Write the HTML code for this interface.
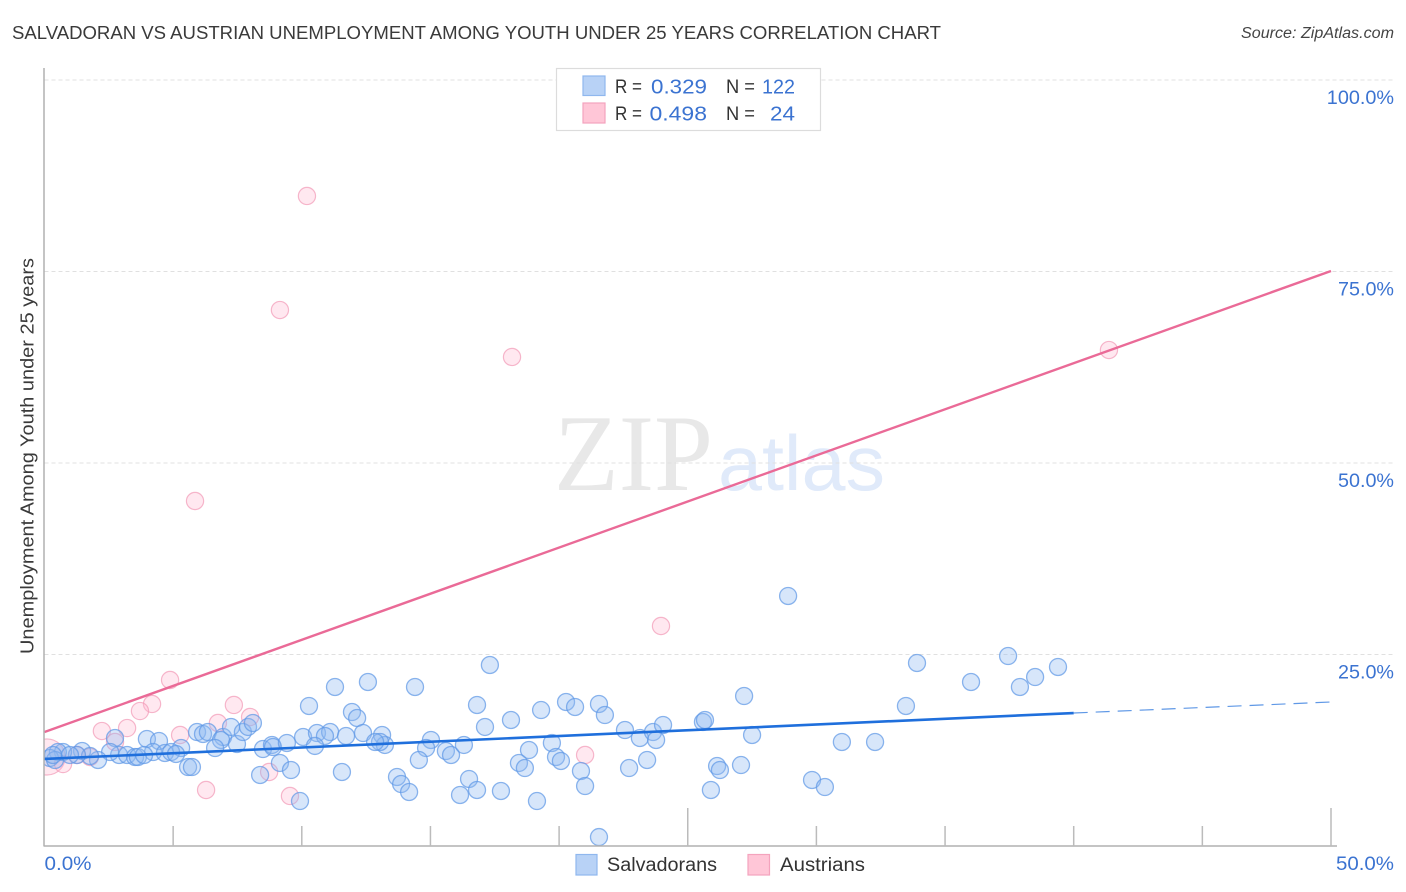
<!DOCTYPE html>
<html lang="en">
<head>
<meta charset="utf-8">
<title>Salvadoran vs Austrian Unemployment Correlation Chart</title>
<style>
html,body{margin:0;padding:0;background:#fff;width:1406px;height:892px;overflow:hidden}
svg{display:block;font-family:"Liberation Sans",sans-serif}
</style>
</head>
<body>
<svg id="chart" xmlns="http://www.w3.org/2000/svg" width="1406" height="892" viewBox="0 0 1406 892">
  <defs>
    <clipPath id="plot-clip"><rect x="44.5" y="68" width="1300" height="778"></rect></clipPath>
  </defs>
  <rect x="0" y="0" width="1406" height="892" fill="#fff"></rect>
  <text x="12" y="39" font-size="18.5" fill="#3a3a3a" textLength="929" lengthAdjust="spacingAndGlyphs">SALVADORAN VS AUSTRIAN UNEMPLOYMENT AMONG YOUTH UNDER 25 YEARS CORRELATION CHART</text>
  <text x="1394" y="38" font-size="15.5" font-style="italic" fill="#444" text-anchor="end" textLength="153" lengthAdjust="spacingAndGlyphs">Source: ZipAtlas.com</text>
  <g>
    <text x="554" y="490" font-family="'Liberation Serif',serif" font-size="109" fill="#e8e8e8" textLength="159" lengthAdjust="spacingAndGlyphs">ZIP</text>
    <text x="718" y="490" font-size="78" fill="#e0eafa" textLength="167" lengthAdjust="spacingAndGlyphs">atlas</text>
  </g>
  <g id="grid"></g>
  <g id="points-austrians" clip-path="url(#plot-clip)"></g>
  <g id="points-salvadorans" clip-path="url(#plot-clip)"></g>
  <g id="trends"></g>
  <g id="axes"></g>
  <text transform="translate(33.5,456) rotate(-90)" font-size="18.5" fill="#3a3a3a" text-anchor="middle" textLength="396" lengthAdjust="spacingAndGlyphs">Unemployment Among Youth under 25 years</text>
  <g>
    <rect x="556.5" y="68.5" width="264" height="62" fill="#fff" stroke="#dcdcdc" stroke-width="1.2"></rect>
    <rect x="583" y="76" width="22" height="19.5" fill="#b8d2f6" stroke="#8fb7ee" stroke-width="1.2"></rect>
    <rect x="583" y="103" width="22" height="20" fill="#ffc6d7" stroke="#f4a3bd" stroke-width="1.2"></rect>
    <text x="615" y="93" font-size="19" fill="#333" textLength="27" lengthAdjust="spacingAndGlyphs">R =</text>
    <text x="651" y="93.5" font-size="20.5" fill="#3b73d1" textLength="56" lengthAdjust="spacingAndGlyphs">0.329</text>
    <text x="726" y="93" font-size="19" fill="#333" textLength="29" lengthAdjust="spacingAndGlyphs">N =</text>
    <text x="795" y="93.5" font-size="20.5" fill="#3b73d1" text-anchor="end" textLength="33" lengthAdjust="spacingAndGlyphs">122</text>
    <text x="615" y="120" font-size="19" fill="#333" textLength="27" lengthAdjust="spacingAndGlyphs">R =</text>
    <text x="649.5" y="120.5" font-size="20.5" fill="#3b73d1" textLength="57.5" lengthAdjust="spacingAndGlyphs">0.498</text>
    <text x="726" y="120" font-size="19" fill="#333" textLength="29" lengthAdjust="spacingAndGlyphs">N =</text>
    <text x="795" y="120.5" font-size="20.5" fill="#3b73d1" text-anchor="end" textLength="25" lengthAdjust="spacingAndGlyphs">24</text>
  </g>
  <g>
    <rect x="576" y="854.5" width="21" height="20.5" fill="#b8d2f6" stroke="#8fb7ee" stroke-width="1.2"></rect>
    <text x="607" y="871" font-size="19" fill="#333" textLength="110" lengthAdjust="spacingAndGlyphs">Salvadorans</text>
    <rect x="748" y="854.5" width="21.5" height="20.5" fill="#ffc6d7" stroke="#f4a3bd" stroke-width="1.2"></rect>
    <text x="780" y="871" font-size="19" fill="#333" textLength="85" lengthAdjust="spacingAndGlyphs">Austrians</text>
  </g>
</svg>
<script>
const yTickValues = [25, 50, 75, 100];
const yTickLabels = ["25.0%", "50.0%", "75.0%", "100.0%"];
const xTickValues = [5, 10, 15, 20, 25, 30, 35, 40, 45, 50];
const xMajorTicks = [25, 50];
const xEndValues = [0, 50];
const xEndLabels = ["0.0%", "50.0%"];

const salvadoranX = [28.90,37.45,39.39,33.91,38.50,37.91,36.01,33.48,27.50,27.19,30.99,32.28,29.83,30.33,27.07,17.31,14.40,16.81,17.12,18.13,19.30,20.27,20.62,21.55,21.78,22.56,23.14,23.65,24.04,23.77,25.59,25.67,13.12,13.23,13.04,15.02,14.83,14.55,15.60,15.80,16.30,13.70,13.86,14.17,16.50,16.81,16.15,17.74,19.14,18.44,18.67,18.83,19.72,19.88,20.07,20.85,21.01,21.55,23.42,22.72,25.90,26.14,26.25,11.29,12.57,10.28,11.95,12.15,10.05,10.59,11.10,10.90,10.51,11.72,12.38,12.85,8.49,8.84,8.88,9.42,9.15,8.38,9.58,9.93,11.56,5.93,6.16,6.35,6.94,6.86,7.25,6.63,7.48,7.71,7.91,8.10,3.98,4.45,5.31,4.22,4.68,4.92,5.11,5.58,5.73,2.74,2.90,3.21,3.52,3.63,3.87,2.55,2.08,1.46,1.77,1.26,0.72,0.52,0.21,0.41,0.99,0.33];
const salvadoranY = [32.64,24.80,23.37,23.89,22.06,20.76,21.41,18.28,14.49,19.58,13.58,13.58,8.62,7.70,10.57,23.63,20.76,18.41,15.54,16.45,17.75,18.80,18.15,18.54,17.10,15.14,14.10,14.88,15.80,13.84,16.19,16.45,14.49,13.19,13.58,13.84,12.79,11.23,12.40,11.88,13.19,9.01,8.09,7.05,8.75,7.31,6.66,7.18,5.87,10.84,10.18,12.53,13.45,11.62,11.10,9.79,7.83,1.17,11.23,10.18,7.31,10.44,9.92,20.76,21.41,18.28,17.49,16.71,14.23,14.75,14.88,14.36,13.06,14.36,14.75,13.58,12.66,13.19,12.92,13.45,10.84,9.27,9.92,5.87,9.66,14.88,14.62,14.88,14.23,13.84,15.54,12.79,13.32,14.88,15.54,16.06,13.97,13.71,12.79,12.27,12.14,12.27,12.01,10.31,10.31,14.10,11.88,11.88,11.62,11.62,11.88,12.27,11.23,12.40,11.75,11.88,12.27,12.27,11.49,11.23,11.88,11.88];
const austrianX = [10.20,9.15,18.17,41.37,5.85,23.96,4.88,7.36,7.99,6.74,5.27,4.18,3.71,3.21,2.23,2.74,8.73,6.28,9.54,21.01,0.10,0.72,1.26,1.77];
const austrianY = [84.86,69.97,63.84,64.75,45.04,28.72,21.67,18.41,16.84,16.06,14.49,18.54,17.62,15.40,15.01,13.58,9.66,7.31,6.53,11.88,11.62,10.70,11.88,11.62];
const austrianWeight = [1,1,1,1,1,1,1,1,1,1,1,1,1,1,1,1,1,1,1,1,4.4,1,1,1];

const salvadoranTrendX = [0, 40];
const salvadoranTrendY = [11.36, 17.36];
const salvadoranForecastX = [40, 50];
const salvadoranForecastY = [17.36, 18.80];
const austrianTrendX = [0, 50];
const austrianTrendY = [14.88, 75.07];

function xScale(v) { return 44.5 + v * 25.73; }
function yScale(v) { return 846 - v * 7.66; }

const NS = "http://www.w3.org/2000/svg";
function make(tag, attrs, parent) {
  const el = document.createElementNS(NS, tag);
  for (const k in attrs) el.setAttribute(k, attrs[k]);
  parent.appendChild(el);
  return el;
}

const grid = document.getElementById("grid");
const axes = document.getElementById("axes");
const trends = document.getElementById("trends");
const salvGroup = document.getElementById("points-salvadorans");
const austGroup = document.getElementById("points-austrians");

yTickValues.forEach(function (v, i) {
  const line = make("line", {x1: 44.5, x2: 1394, y1: yScale(v), y2: yScale(v), stroke: "#e0e0e0", "stroke-width": 1, "stroke-dasharray": "4 3"}, grid);
  
  
  const label = make("text", {x: 1394, y: yScale(v) + 24, "font-size": 19.5, fill: "#3b73d1", "text-anchor": "end", textLength: 11.2 * yTickLabels[i].length, lengthAdjust: "spacingAndGlyphs"}, axes);
  label.textContent = yTickLabels[i];
  
  
});

const yAxisLine = make("line", {x1: 44, x2: 44, y1: 68, y2: 846.5, stroke: "#b0b0b0", "stroke-width": 1.5}, axes);


const xAxisLine = make("line", {x1: 44, x2: 1337, y1: 846, y2: 846, stroke: "#b0b0b0", "stroke-width": 1.5}, axes);



xTickValues.forEach(function (v) {
  const top = xMajorTicks.indexOf(v) >= 0 ? 808 : 826;
  const tick = make("line", {x1: xScale(v), x2: xScale(v), y1: top, y2: 846, stroke: "#bbbbbb", "stroke-width": 1.5}, axes);
  
  
});

xEndValues.forEach(function (v, i) {
  const label = make("text", {x: i === 0 ? xScale(v) : 1394, y: 870, "font-size": 19.5, fill: "#3b73d1", "text-anchor": i === 0 ? "start" : "end", textLength: i === 0 ? 47 : 58, lengthAdjust: "spacingAndGlyphs"}, axes);
  label.textContent = xEndLabels[i];
  
  
});

austrianX.forEach(function (v, i) {
  const c = make("circle", {cx: xScale(v), cy: yScale(austrianY[i]), r: 8.6 * Math.sqrt(austrianWeight[i]), fill: "#ffb9cf", "fill-opacity": 0.32, stroke: "#f29ab6", "stroke-opacity": 0.7, "stroke-width": 1.2}, austGroup);
  
  
});

salvadoranX.forEach(function (v, i) {
  const c = make("circle", {cx: xScale(v), cy: yScale(salvadoranY[i]), r: 8.5, fill: "#90bbf2", "fill-opacity": 0.36, stroke: "#5f98e6", "stroke-opacity": 0.72, "stroke-width": 1.3}, salvGroup);
  
  
});

const austrianTrend = make("line", {x1: xScale(austrianTrendX[0]), y1: yScale(austrianTrendY[0]), x2: xScale(austrianTrendX[1]), y2: yScale(austrianTrendY[1]), stroke: "#ea6a97", "stroke-width": 2.4}, trends);


const salvadoranTrend = make("line", {x1: xScale(salvadoranTrendX[0]), y1: yScale(salvadoranTrendY[0]), x2: xScale(salvadoranTrendX[1]), y2: yScale(salvadoranTrendY[1]), stroke: "#1f6fdc", "stroke-width": 2.6}, trends);


const salvadoranForecast = make("line", {x1: xScale(salvadoranForecastX[0]), y1: yScale(salvadoranForecastY[0]), x2: xScale(salvadoranForecastX[1]), y2: yScale(salvadoranForecastY[1]), stroke: "#5f98e6", "stroke-width": 1.2, "stroke-dasharray": "14 8"}, trends);


</script>
</body>
</html>
